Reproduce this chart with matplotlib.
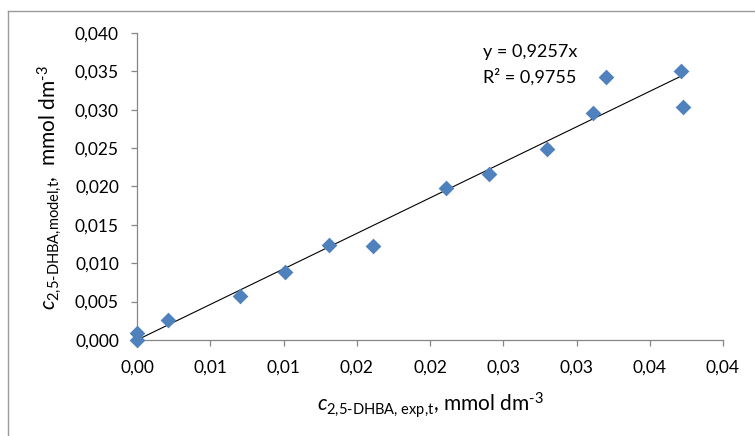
import matplotlib
matplotlib.use("Agg")
import matplotlib.pyplot as plt
import numpy as np
from matplotlib.lines import Line2D

plt.rcParams['font.family'] = ['Lato', 'DejaVu Sans']
plt.rcParams['mathtext.fontset'] = 'custom'
plt.rcParams['mathtext.rm'] = 'Lato'
plt.rcParams['mathtext.it'] = 'Lato:italic'

# data
c_exp = [0.0000, 0.0000, 0.0021, 0.0070, 0.0101, 0.0131, 0.0161, 0.0211, 0.0240, 0.0280, 0.0311, 0.0320, 0.0371, 0.0373]
c_model = [0.0000, 0.0009, 0.0026, 0.0057, 0.0089, 0.0124, 0.0122, 0.0198, 0.0216, 0.0249, 0.0296, 0.0343, 0.0350, 0.0304]
slope = 0.9257
r2_text = "0,9755"
x_ticks = [0.0, 0.005, 0.01, 0.015, 0.02, 0.025, 0.03, 0.035, 0.04]
x_tick_labels = ["0,00", "0,01", "0,01", "0,02", "0,02", "0,03", "0,03", "0,04", "0,04"]
y_ticks = [0.0, 0.005, 0.01, 0.015, 0.02, 0.025, 0.03, 0.035, 0.04]
y_tick_labels = ["0,000", "0,005", "0,010", "0,015", "0,020", "0,025", "0,030", "0,035", "0,040"]

fig = plt.figure(figsize=(7.55, 4.36), dpi=100)
ax = fig.add_axes([137/755, 1-340/436, (723-137)/755, (340-33)/436])

gray = '#868686'
ax.scatter(c_exp, c_model, marker='D', s=8.0**2, color='#4F81BD', zorder=3, linewidths=0, clip_on=False)
xfit = np.array([0.0, max(c_exp)])
ax.plot(xfit, slope*xfit, color='black', lw=0.8, zorder=2)

ax.set_xlim(0, 0.04)
ax.set_ylim(0, 0.04)
ax.set_xticks(x_ticks, x_tick_labels)
ax.set_yticks(y_ticks, y_tick_labels)

for s in ['top', 'right']:
    ax.spines[s].set_visible(False)
for s in ['left', 'bottom']:
    ax.spines[s].set_color(gray)
    ax.spines[s].set_linewidth(0.9)
ax.tick_params(axis='both', direction='out', length=4, color=gray, width=0.9,
               labelsize=12.5, labelcolor='black')
ax.tick_params(axis='x', pad=10)
ax.tick_params(axis='y', pad=9)

fig.text(483/755, 1-52/436, "y = 0,9257x", fontsize=13, va='center', ha='left')
fig.text(483/755, 1-77/436, "R² = " + r2_text, fontsize=13, va='center', ha='left')

fig.text(430/755, 1-405/436,
         r"$c_{\mathrm{2{,}5\text{-}DHBA{,}\ exp{,}t}}$, mmol dm$^{\text{-}3}$",
         fontsize=15, ha='center', va='center')
fig.text(50/755, 1-188/436,
         r"$c_{\mathrm{2{,}5\text{-}DHBA{,}model{,}t}}$,  mmol dm$^{\text{-}3}$",
         fontsize=15, ha='center', va='center', rotation=90)

fig.add_artist(Line2D([8/755, 8/755], [0, 1-11/436], transform=fig.transFigure, color='#999999', lw=1))
fig.add_artist(Line2D([8/755, 1], [1-11/436, 1-11/436], transform=fig.transFigure, color='#999999', lw=1))

fig.savefig('out.png', dpi=100)
